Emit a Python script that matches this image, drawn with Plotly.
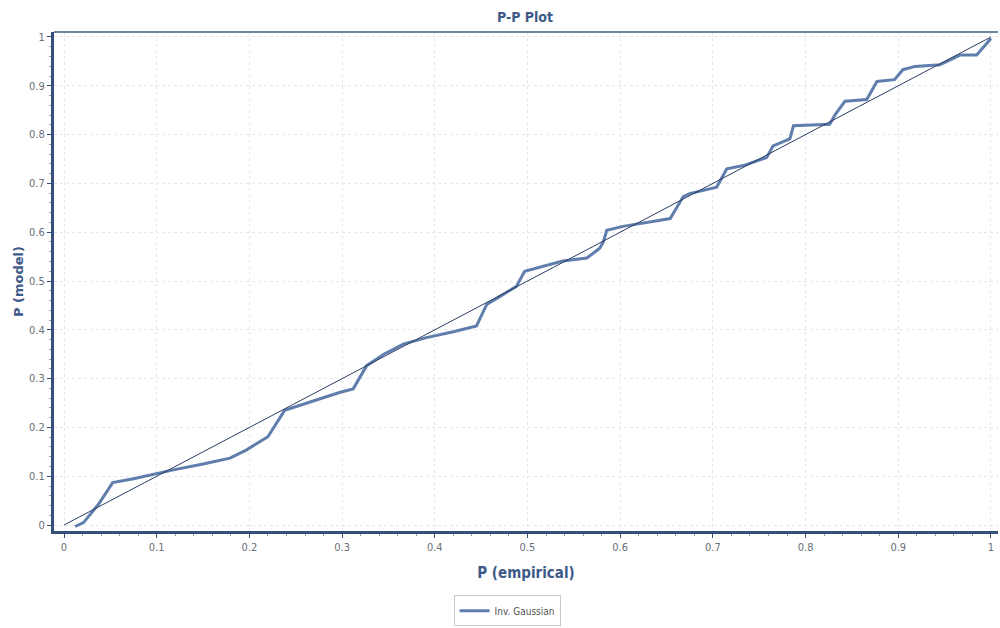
import plotly.graph_objects as go

# Empirical vs. model cumulative probabilities for the fitted Inverse Gaussian
p_empirical = [0.012, 0.021, 0.037, 0.0525, 0.075, 0.1036, 0.118, 0.15, 0.179, 0.197, 0.220,
               0.238, 0.27, 0.298, 0.312, 0.3265, 0.345, 0.366, 0.391, 0.42, 0.445, 0.456,
               0.47, 0.488, 0.497, 0.524, 0.538, 0.564, 0.578, 0.582, 0.5855, 0.603, 0.654,
               0.668, 0.675, 0.704, 0.715, 0.733, 0.758, 0.765, 0.783, 0.787, 0.8155, 0.826,
               0.832, 0.8425, 0.866, 0.877, 0.896, 0.905, 0.918, 0.945, 0.9666, 0.9846, 1.0]
p_model = [-0.003, 0.005, 0.042, 0.087, 0.095, 0.108, 0.113, 0.125, 0.137, 0.154, 0.181,
           0.235, 0.255, 0.272, 0.279, 0.3266, 0.35, 0.3706, 0.384, 0.396, 0.408, 0.452,
           0.468, 0.489, 0.520, 0.533, 0.541, 0.547, 0.567, 0.581, 0.604, 0.612, 0.628,
           0.673, 0.679, 0.692, 0.7297, 0.7365, 0.753, 0.777, 0.791, 0.818, 0.821, 0.821,
           0.841, 0.8685, 0.872, 0.909, 0.9126, 0.933, 0.9397, 0.943, 0.963, 0.963, 0.997]

diag = [0, 1]
ticks = [0, 0.1, 0.2, 0.3, 0.4, 0.5, 0.6, 0.7, 0.8, 0.9, 1]
tick_text = ["0", "0.1", "0.2", "0.3", "0.4", "0.5", "0.6", "0.7", "0.8", "0.9", "1"]

narrow = "Liberation Sans Narrow, DejaVu Sans Condensed, Arial Narrow, sans-serif"
title_col = "#3e5a88"
axis_col = "#34507a"

fig = go.Figure()
fig.add_trace(go.Scatter(
    x=p_empirical, y=p_model, mode="lines", name="Inv. Gaussian",
    line=dict(color="#5f7dad", width=3),
))
fig.add_trace(go.Scatter(
    x=diag, y=diag, mode="lines", showlegend=False,
    line=dict(color="#2a3d63", width=1),
))

axis_common = dict(
    tickvals=ticks, ticktext=tick_text, ticks="outside", ticklen=4,
    tickcolor=axis_col, tickfont=dict(family=narrow, size=11, color="#6a6f78"),
    showgrid=True, gridcolor="#e4e8ee", griddash="dot", gridwidth=1,
    zeroline=False, showline=True, linecolor=axis_col, linewidth=3,
    minor=dict(ticks="outside", dtick=0.02, ticklen=2, tickcolor="#8a9ab3", showgrid=False),
)

fig.update_layout(
    width=1000, height=628,
    margin=dict(l=54, r=2, t=32, b=93),
    paper_bgcolor="white", plot_bgcolor="white",
    title=dict(text="<b>P-P Plot</b>", x=0.525, xanchor="center", y=0.981, yanchor="top",
               font=dict(family=narrow, size=14, color=title_col)),
    xaxis=dict(range=[-0.0108, 1.0076],
               title=dict(text="<b>P (empirical)</b>", standoff=15,
                          font=dict(family=narrow, size=15, color=title_col)),
               **axis_common),
    yaxis=dict(range=[-0.0122, 1.0102],
               title=dict(text="<b>P (model)</b>", standoff=3,
                          font=dict(family="DejaVu Sans, sans-serif", size=13, color=title_col)),
               **axis_common),
    legend=dict(orientation="h", x=0.48, xanchor="center", y=-0.16, yanchor="middle",
                bordercolor="#c8c8c8", borderwidth=1, bgcolor="white",
                font=dict(family=narrow, size=10, color="#555555"),
                itemwidth=30),
    showlegend=True,
)

# thin frame along the top edge of the plotting area
fig.add_shape(type="line", xref="paper", yref="paper", x0=0, x1=1, y0=1, y1=1,
              line=dict(color="#6e86a6", width=2))

fig.write_html("out.html")
